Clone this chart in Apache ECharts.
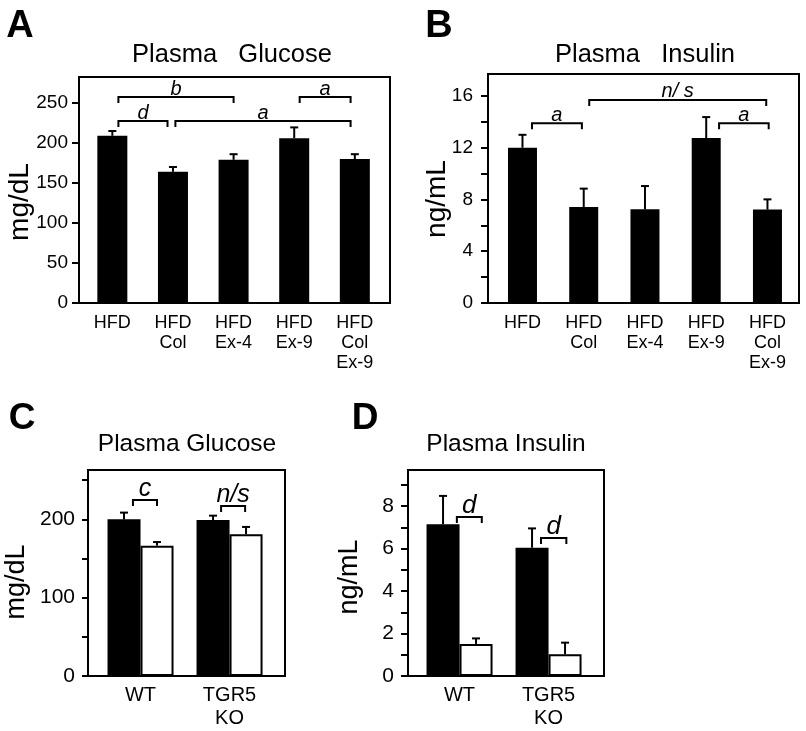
<!DOCTYPE html>
<html>
<head>
<meta charset="utf-8">
<script src="https://cdn.jsdelivr.net/npm/echarts@6/dist/echarts.min.js"></script>
<style>
  html, body { margin: 0; padding: 0; background: #fff; }
  #main { width: 806px; height: 731px; }
</style>
</head>
<body>
<div id="main"></div>
<script>
// ---- data ----
const catsTop = ['HFD', 'HFD\nCol', 'HFD\nEx-4', 'HFD\nEx-9', 'HFD\nCol\nEx-9'];
const posTop = [0, 1, 2, 3, 4];
const glucoseA = [209, 164, 179, 206, 180];
const glucoseAUpper = [215, 170, 186, 219.5, 186];
const insulinB = [12.0, 7.42, 7.24, 12.75, 7.22];
const insulinBUpper = [13.0, 8.84, 9.04, 14.37, 8.01];

const catsBottom = ['WT', 'TGR5\nKO'];
const posBottom = [0, 1];
const glucoseCBlack = [200, 199.2];
const glucoseCBlackUpper = [208.6, 204.7];
const glucoseCWhite = [166.4, 181];
const glucoseCWhiteUpper = [171, 190.3];
const insulinDBlack = [7.14, 6.04];
const insulinDBlackUpper = [8.48, 6.95];
const insulinDWhite = [1.51, 1.02];
const insulinDWhiteUpper = [1.77, 1.57];

// [from, to, y, label]
const bracketsA = [[0.1, 2.0, 257.5, 'b'], [0.1, 0.91, 227.5, 'd'], [1.04, 3.93, 227.5, 'a'], [3.09, 3.93, 257.5, 'a']];
const bracketsB = [[0.155, 0.97, 13.9, 'a'], [1.09, 3.98, 15.7, 'n/ s'], [3.21, 4.02, 13.9, 'a']];
const bracketsC = [[-0.085, 0.185, 224.8, 'c'], [0.905, 1.175, 217, 'n/s']];
const bracketsD = [[-0.03, 0.25, 7.49, 'd'], [0.915, 1.2, 6.5, 'd']];

const yTicksA = [0, 50, 100, 150, 200, 250];
const yLabelsA = [0, 50, 100, 150, 200, 250];
const yTicksB = [0, 2, 4, 6, 8, 10, 12, 14, 16];
const yLabelsB = [0, 4, 8, 12, 16];
const yTicksC = [0, 50, 100, 150, 200, 250];
const yLabelsC = [0, 100, 200];
const yTicksD = [0, 1, 2, 3, 4, 5, 6, 7, 8, 9];
const yLabelsD = [0, 2, 4, 6, 8];

const FONT = '"Liberation Sans", Arial, sans-serif';

const chart = echarts.init(document.getElementById('main'));

const zip = (xs, ys) => xs.map((x, i) => [x, ys[i]]);
const zip3 = (xs, ys, zs) => xs.map((x, i) => [x, ys[i], zs[i]]);

function errorSeries(idx, xs, ys, tops, offset) {
  return {
    type: 'custom',
    xAxisIndex: idx, yAxisIndex: idx,
    z: 4,
    data: zip3(xs, ys, tops),
    encode: { x: 0, y: [1, 2] },
    renderItem: (params, api) => {
      const p0 = api.coord([api.value(0), api.value(1)]);
      const p1 = api.coord([api.value(0), api.value(2)]);
      const cx = p0[0] + offset;
      return {
        type: 'group',
        children: [
          { type: 'line', shape: { x1: cx, y1: p0[1], x2: cx, y2: p1[1] }, style: { stroke: '#000', lineWidth: 2 } },
          { type: 'line', shape: { x1: cx - 4, y1: p1[1], x2: cx + 4, y2: p1[1] }, style: { stroke: '#000', lineWidth: 2 } }
        ]
      };
    }
  };
}

function bracketSeries(idx, list, fontSize) {
  return {
    type: 'custom',
    xAxisIndex: idx, yAxisIndex: idx,
    z: 5,
    data: list.map(b => [b[0], b[1], b[2]]),
    renderItem: (params, api) => {
      const a = api.coord([api.value(0), api.value(2)]);
      const b = api.coord([api.value(1), api.value(2)]);
      return {
        type: 'group',
        children: [
          {
            type: 'polyline',
            shape: { points: [[a[0], a[1] + 6], [a[0], a[1]], [b[0], b[1]], [b[0], b[1] + 6]] },
            style: { stroke: '#000', lineWidth: 2, fill: null }
          },
          {
            type: 'text',
            style: {
              text: list[params.dataIndex][3],
              x: (a[0] + b[0]) / 2, y: a[1] + 2,
              fontSize: fontSize, fontStyle: 'italic', fontFamily: FONT,
              fill: '#000', textAlign: 'center', textVerticalAlign: 'bottom'
            }
          }
        ]
      };
    }
  };
}

function xAxis(idx, min, max, pos, cats, fontSize, lineHeight, margin) {
  return {
    type: 'value', gridIndex: idx, min: min, max: max,
    axisLine: { show: true, onZero: false, lineStyle: { color: '#000', width: 2 } },
    axisTick: { show: false },
    splitLine: { show: false },
    axisLabel: {
      customValues: pos,
      formatter: v => cats[Math.round(v)],
      color: '#000', fontFamily: FONT, fontSize: fontSize, lineHeight: lineHeight, margin: margin
    }
  };
}

function yAxis(idx, max, ticks, labels, fontSize, tickLen, margin) {
  return {
    type: 'value', gridIndex: idx, min: 0, max: max,
    axisLine: { show: true, onZero: false, lineStyle: { color: '#000', width: 2 } },
    axisTick: { show: true, customValues: ticks, length: tickLen, lineStyle: { color: '#000', width: 2 } },
    splitLine: { show: false },
    axisLabel: {
      customValues: labels,
      color: '#000', fontFamily: FONT, fontSize: fontSize, margin: margin
    }
  };
}

const gridStyle = { show: true, borderColor: '#000', borderWidth: 2, containLabel: false };

const text = (t, x, y, size, opts) => Object.assign({
  type: 'text', x: x, y: y,
  style: Object.assign({ text: t, fontSize: size, fontFamily: FONT, fill: '#000', textAlign: 'center', textVerticalAlign: 'middle' }, opts || {})
});

const option = {
  backgroundColor: '#fff',
  animation: false,
  grid: [
    Object.assign({ left: 79, top: 77, width: 311, height: 226 }, gridStyle),
    Object.assign({ left: 488, top: 74, width: 311, height: 229 }, gridStyle),
    Object.assign({ left: 88, top: 470, width: 197, height: 206 }, gridStyle),
    Object.assign({ left: 408, top: 470, width: 196, height: 206 }, gridStyle)
  ],
  xAxis: [
    xAxis(0, -0.55, 4.58, posTop, catsTop, 18, 20, 10),
    xAxis(1, -0.563, 4.515, posTop, catsTop, 18, 20, 10),
    xAxis(2, -0.59, 1.623, posBottom, catsBottom, 20, 23, 8),
    xAxis(3, -0.579, 1.623, posBottom, catsBottom, 20, 23, 8)
  ],
  yAxis: [
    yAxis(0, 282.5, yTicksA, yLabelsA, 19, 7, 11),
    yAxis(1, 17.7, yTicksB, yLabelsB, 19, 7, 15),
    yAxis(2, 263, yTicksC, yLabelsC, 21, 6, 13),
    yAxis(3, 9.7, yTicksD, yLabelsD, 21, 7, 14)
  ],
  series: [
    { type: 'bar', xAxisIndex: 0, yAxisIndex: 0, barWidth: 30, data: zip(posTop, glucoseA), itemStyle: { color: '#000' } },
    errorSeries(0, posTop, glucoseA, glucoseAUpper, 0),
    bracketSeries(0, bracketsA, 20),

    { type: 'bar', xAxisIndex: 1, yAxisIndex: 1, barWidth: 29, data: zip(posTop, insulinB), itemStyle: { color: '#000' } },
    errorSeries(1, posTop, insulinB, insulinBUpper, 0),
    bracketSeries(1, bracketsB, 20),

    { type: 'bar', xAxisIndex: 2, yAxisIndex: 2, barWidth: 33, barGap: '0%', data: zip(posBottom, glucoseCBlack), itemStyle: { color: '#000', borderColor: '#000', borderWidth: 2 } },
    { type: 'bar', xAxisIndex: 2, yAxisIndex: 2, barWidth: 33, barGap: '0%', data: zip(posBottom, glucoseCWhite), itemStyle: { color: '#fff', borderColor: '#000', borderWidth: 2 } },
    errorSeries(2, posBottom, glucoseCBlack, glucoseCBlackUpper, -16.5),
    errorSeries(2, posBottom, glucoseCWhite, glucoseCWhiteUpper, 16.5),
    bracketSeries(2, bracketsC, 25),

    { type: 'bar', xAxisIndex: 3, yAxisIndex: 3, barWidth: 33, barGap: '0%', data: zip(posBottom, insulinDBlack), itemStyle: { color: '#000', borderColor: '#000', borderWidth: 2 } },
    { type: 'bar', xAxisIndex: 3, yAxisIndex: 3, barWidth: 33, barGap: '0%', data: zip(posBottom, insulinDWhite), itemStyle: { color: '#fff', borderColor: '#000', borderWidth: 2 } },
    errorSeries(3, posBottom, insulinDBlack, insulinDBlackUpper, -16.5),
    errorSeries(3, posBottom, insulinDWhite, insulinDWhiteUpper, 16.5),
    bracketSeries(3, bracketsD, 26)
  ],
  graphic: [
    text('A', 20, 27, 38, { fontWeight: 'bold' }),
    text('B', 439, 27, 38, { fontWeight: 'bold' }),
    text('C', 22, 419, 37, { fontWeight: 'bold' }),
    text('D', 365, 419, 37, { fontWeight: 'bold' }),
    text('Plasma   Glucose', 232, 55, 25.5),
    text('Plasma   Insulin', 645, 55, 25.5),
    text('Plasma Glucose', 187, 444, 24.5),
    text('Plasma Insulin', 506, 444, 24.5),
    text('mg/dL', 20, 202, 28),
    text('ng/mL', 437, 199, 28),
    text('mg/dL', 17, 582, 27),
    text('ng/mL', 350, 577, 27)
  ].map((g, i) => (i >= 8 ? Object.assign(g, { rotation: Math.PI / 2 }) : g))
};

chart.setOption(option);
</script>
</body>
</html>
